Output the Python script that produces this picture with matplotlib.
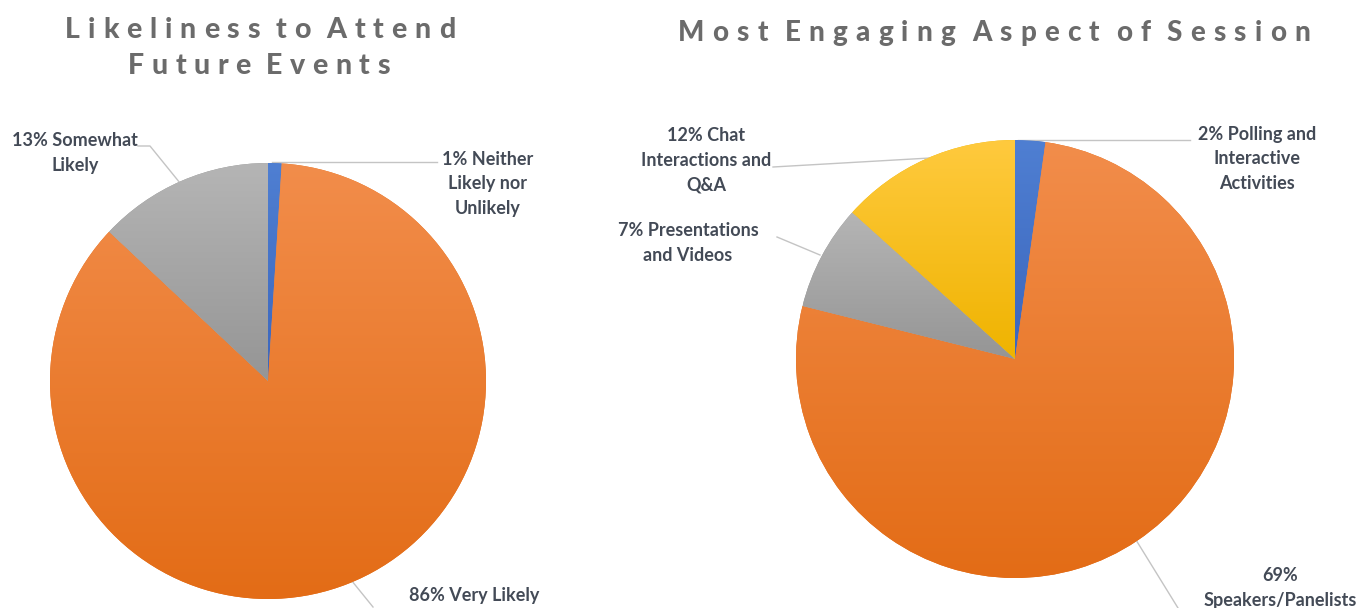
import numpy as np
import matplotlib.pyplot as plt
from matplotlib.colors import LinearSegmentedColormap

W, H = 1358, 608

# Likeliness to attend future events (clockwise from 12 o'clock)
attend_labels = ['1% Neither\nLikely nor\nUnlikely', '86% Very Likely', '13% Somewhat\nLikely']
attend_values = [1, 86, 13]

# Most engaging aspect of session (clockwise from 12 o'clock)
engage_labels = ['2% Polling and\nInteractive\nActivities', '69%\nSpeakers/Panelists',
                 '7% Presentations\nand Videos', '12% Chat\nInteractions and\nQ&A']
engage_values = [2, 69, 7, 12]

# top / bottom colour of each slice gradient
blue = ('#4f7fd2', '#3b66bd')
orange = ('#f28d4b', '#e36c16')
gray = ('#b5b5b5', '#959595')
yellow = ('#ffca3e', '#efb300')

label_color = '#434a56'
line_color = '#c4c4c4'
title_color = '#6b6b6b'
label_font = dict(family='Lato', weight='bold', size=13, color=label_color)

fig = plt.figure(figsize=(W / 100, H / 100), dpi=100)
ax = fig.add_axes([0, 0, 1, 1])
ax.set_xlim(0, W)
ax.set_ylim(0, H)
ax.axis('off')


def Y(y):
    return H - y


def gradient_pie(values, colors, center, radius):
    wedges, _ = ax.pie(values, startangle=90, counterclock=False,
                       center=center, radius=radius, frame=True,
                       wedgeprops=dict(linewidth=0))
    for w, (top, bot) in zip(wedges, colors):
        w.set_facecolor(bot)
        bb = w.get_path().get_extents(w.get_transform() - ax.transData)
        cmap = LinearSegmentedColormap.from_list('g', [bot, top])
        grad = np.linspace(0, 1, 256).reshape(-1, 1)
        im = ax.imshow(grad, cmap=cmap, origin='lower', aspect='auto',
                       extent=[bb.x0, bb.x1, bb.y0, bb.y1], zorder=2)
        im.set_clip_path(w)
    return wedges


def leader(points):
    xs = [p[0] for p in points]
    ys = [Y(p[1]) for p in points]
    ax.plot(xs, ys, color=line_color, lw=1, zorder=1)


def label(x, y, s):
    ax.text(x, Y(y), s, ha='center', va='center', linespacing=1.55, **label_font)


def spaced_title(xc, y, s, width, size=20):
    # draw a letter-spaced title so that it spans `width` pixels
    fig.canvas.draw()
    r = fig.canvas.get_renderer()
    chars = []
    for ch in s:
        t = ax.text(0, Y(y), ch, family='Lato', weight='black', size=size,
                    color=title_color, va='center', ha='left')
        chars.append(t)
    widths = []
    for ch, t in zip(s, chars):
        if ch == ' ':
            widths.append(0)
        else:
            widths.append(t.get_window_extent(r).width)
    n = len(s) - 1
    gap = (width - sum(widths)) / n
    x = xc - width / 2
    for wdt, t in zip(widths, chars):
        t.set_x(x)
        x += wdt + gap


gradient_pie(attend_values, [blue, orange, gray], (268, Y(381)), 218)
gradient_pie(engage_values, [blue, orange, gray, yellow], (1015, Y(359)), 219)

ax.set_xlim(0, W)
ax.set_ylim(0, H)
ax.axis('off')

# leader lines
leader([(272, 162), (437, 162)])
leader([(138, 146), (150, 146), (180, 183)])
leader([(343, 570), (373, 607)])
leader([(1018, 140), (1190, 140)])
leader([(773, 167), (930, 158)])
leader([(777, 237), (820, 255)])
leader([(1128, 527), (1178, 608)])

# data labels
label(488, 184, attend_labels[0])
label(474, 596, attend_labels[1])
label(75, 153, attend_labels[2])
label(1257, 159, engage_labels[0])
label(1280, 588, engage_labels[1])
label(688, 243, engage_labels[2])
label(706, 160, engage_labels[3])

# titles
spaced_title(260, 30, 'Likeliness to Attend', 390, size=20.5)
spaced_title(259, 66, 'Future Events', 262, size=20.5)
spaced_title(994, 33, 'Most Engaging Aspect of Session', 632, size=20)

fig.savefig('out.png', dpi=100)
